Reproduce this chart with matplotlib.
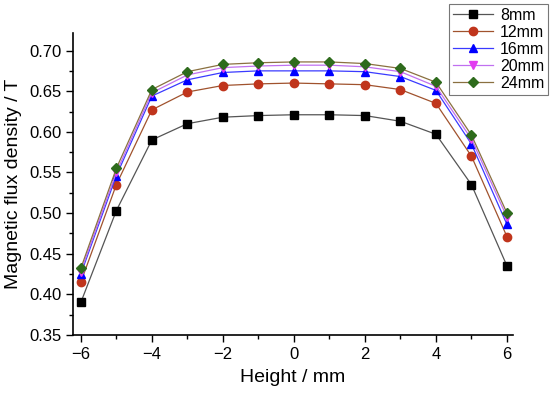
import matplotlib
matplotlib.use("Agg")
import matplotlib.pyplot as plt
from matplotlib.ticker import MultipleLocator

plt.rcParams['font.family'] = ['Liberation Sans', 'DejaVu Sans']

# data
height = [-6, -5, -4, -3, -2, -1, 0, 1, 2, 3, 4, 5, 6]
b_8mm = [0.390, 0.503, 0.590, 0.610, 0.618, 0.620, 0.621, 0.621, 0.620, 0.613, 0.597, 0.535, 0.435]
b_12mm = [0.415, 0.535, 0.627, 0.649, 0.657, 0.659, 0.660, 0.659, 0.658, 0.652, 0.635, 0.570, 0.471]
b_16mm = [0.425, 0.546, 0.644, 0.664, 0.673, 0.675, 0.675, 0.675, 0.674, 0.668, 0.651, 0.585, 0.486]
b_20mm = [0.428, 0.550, 0.648, 0.670, 0.679, 0.681, 0.682, 0.682, 0.680, 0.674, 0.656, 0.591, 0.495]
b_24mm = [0.432, 0.555, 0.652, 0.674, 0.683, 0.685, 0.686, 0.686, 0.684, 0.678, 0.661, 0.596, 0.500]
labels = ['8mm', '12mm', '16mm', '20mm', '24mm']

series = [b_8mm, b_12mm, b_16mm, b_20mm, b_24mm]
markers = ['s', 'o', '^', 'v', 'D']
mcolors = ['#000000', '#c0351c', '#0000ff', '#e23cf0', '#2e6b1c']
lcolors = ['#555555', '#a0522d', '#3a3aff', '#c070f0', '#8a7040']
msizes = [5.2, 6, 6.2, 6.2, 5]

fig = plt.figure(figsize=(5.5, 3.93), dpi=100)
ax = fig.add_axes([73 / 550, 58 / 393, 440 / 550, 302 / 393])

for y, lab, m, mc, lc, ms in zip(series, labels, markers, mcolors, lcolors, msizes):
    ax.plot(height, y, color=lc, lw=0.9, marker=m, markersize=ms,
            markerfacecolor=mc, markeredgecolor=mc, label=lab)

ax.set_xlim(-6.22, 6.17)
ax.set_ylim(0.35, 0.7216)
ax.xaxis.set_major_locator(MultipleLocator(2))
ax.xaxis.set_minor_locator(MultipleLocator(1))
ax.yaxis.set_major_locator(MultipleLocator(0.05))
ax.yaxis.set_minor_locator(MultipleLocator(0.025))
ax.yaxis.set_major_formatter(matplotlib.ticker.FormatStrFormatter('%.2f'))
ax.tick_params(which='major', direction='out', length=5, width=1, labelsize=12)
ax.tick_params(which='minor', direction='out', length=3, width=1)
ax.spines['top'].set_visible(False)
ax.spines['right'].set_visible(False)
for s in ['left', 'bottom']:
    ax.spines[s].set_linewidth(1.2)

ax.set_xlabel('Height / mm', fontsize=14, labelpad=5)
ax.set_ylabel('Magnetic flux density / T', fontsize=14, labelpad=5)

leg = fig.legend(loc='upper right', bbox_to_anchor=(548 / 550, 1 - 4 / 393),
                 borderaxespad=0, fontsize=11.5, frameon=True, fancybox=False,
                 edgecolor='#555555', handlelength=2.5, borderpad=0.25,
                 labelspacing=0.12, handletextpad=0.4)
leg.get_frame().set_linewidth(0.8)

plt.savefig('out.png', dpi=100)
